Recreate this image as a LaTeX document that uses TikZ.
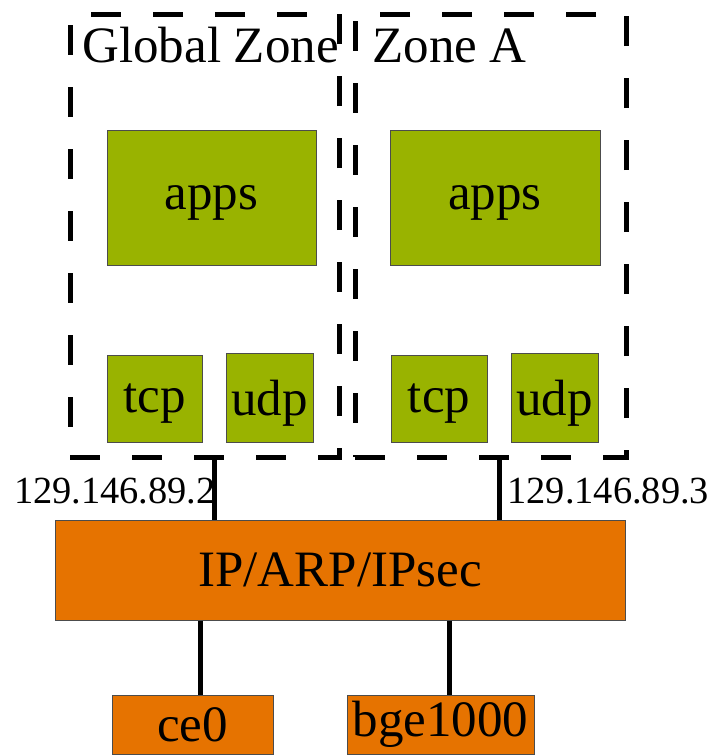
\documentclass[tikz,border=0pt]{standalone}
\usepackage{fontspec}
\setmainfont{Liberation Serif}
\usetikzlibrary{fit}
\definecolor{appgreen}{RGB}{153,179,0}
\definecolor{netorange}{RGB}{230,115,0}
\tikzstyle{zone}=[draw,line width=2.5pt,dash pattern=on 15pt off 16pt,inner sep=0pt]
\tikzstyle{stack}=[draw=black!70,line width=.5pt,fill=appgreen,inner sep=0pt,text depth=0pt,font=\fontsize{25.5}{30}\selectfont]
\tikzstyle{net}=[draw=black!70,line width=.5pt,fill=netorange,inner sep=0pt,font=\fontsize{25.5}{30}\selectfont]
\tikzstyle{link}=[line width=2.5pt]
\tikzstyle{addr}=[inner sep=0pt,font=\fontsize{19.2}{22}\selectfont]

\begin{document}
\begin{tikzpicture}[x=.5pt,y=-.5pt]
  \clip (0,0) rectangle (715,755);

  % ZONES
  \node[zone,fit={(70,14) (339,457)}] (gz) {};
  \node[zone,fit={(355,14) (626,457)}] (za) {};
  \node[anchor=base west,inner sep=0pt,font=\fontsize{25.5}{30}\selectfont] (gzname) at (82,62) {Global Zone};
  \node[anchor=base west,inner sep=0pt,font=\fontsize{25.5}{30}\selectfont] (zaname) at (372,62) {Zone A};

  % STACKS
  \node[stack,minimum width=104.5pt,minimum height=67.5pt] (appsg) at (211.5,197.5) {apps};
  \node[stack,minimum width=105pt,minimum height=67.5pt] (appsa) at (495,197.5) {apps};
  \node[stack,minimum width=47.5pt,minimum height=43.5pt] (tcpg) at (154.5,398.5) {tcp};
  \node[stack,minimum width=43.5pt,minimum height=44.5pt] (udpg) at (269.5,397.5) {udp};
  \node[stack,minimum width=48pt,minimum height=43.5pt] (tcpa) at (439,398.5) {tcp};
  \node[stack,minimum width=43.5pt,minimum height=44.5pt] (udpa) at (554.5,397.5) {udp};

  % NETWORK
  \node[net,minimum width=285pt,minimum height=50pt] (ip) at (340,570) {IP/ARP/IPsec};
  \node[net,minimum width=80.5pt,minimum height=29.5pt] (ce) at (192.5,724.5) {ce0};
  \node[net,minimum width=93.5pt,minimum height=29.5pt] (bge) at (440.5,724.5) {bge1000};

  % LINKS
  \coordinate (gzport) at (214,0);
  \coordinate (zaport) at (499,0);
  \coordinate (ceport) at (200,0);
  \coordinate (bgeport) at (449,0);
  \draw[link] (gz.south -| gzport) -- (ip.north -| gzport);
  \draw[link] (za.south -| zaport) -- (ip.north -| zaport);
  \draw[link] (ip.south -| ceport) -- (ce.north -| ceport);
  \draw[link] (ip.south -| bgeport) -- (bge.north -| bgeport);
  \node[addr,anchor=base east] (addrg) at (216,503) {129.146.89.2};
  \node[addr,anchor=base west] (addra) at (507,503) {129.146.89.3};
\end{tikzpicture}
\end{document}
